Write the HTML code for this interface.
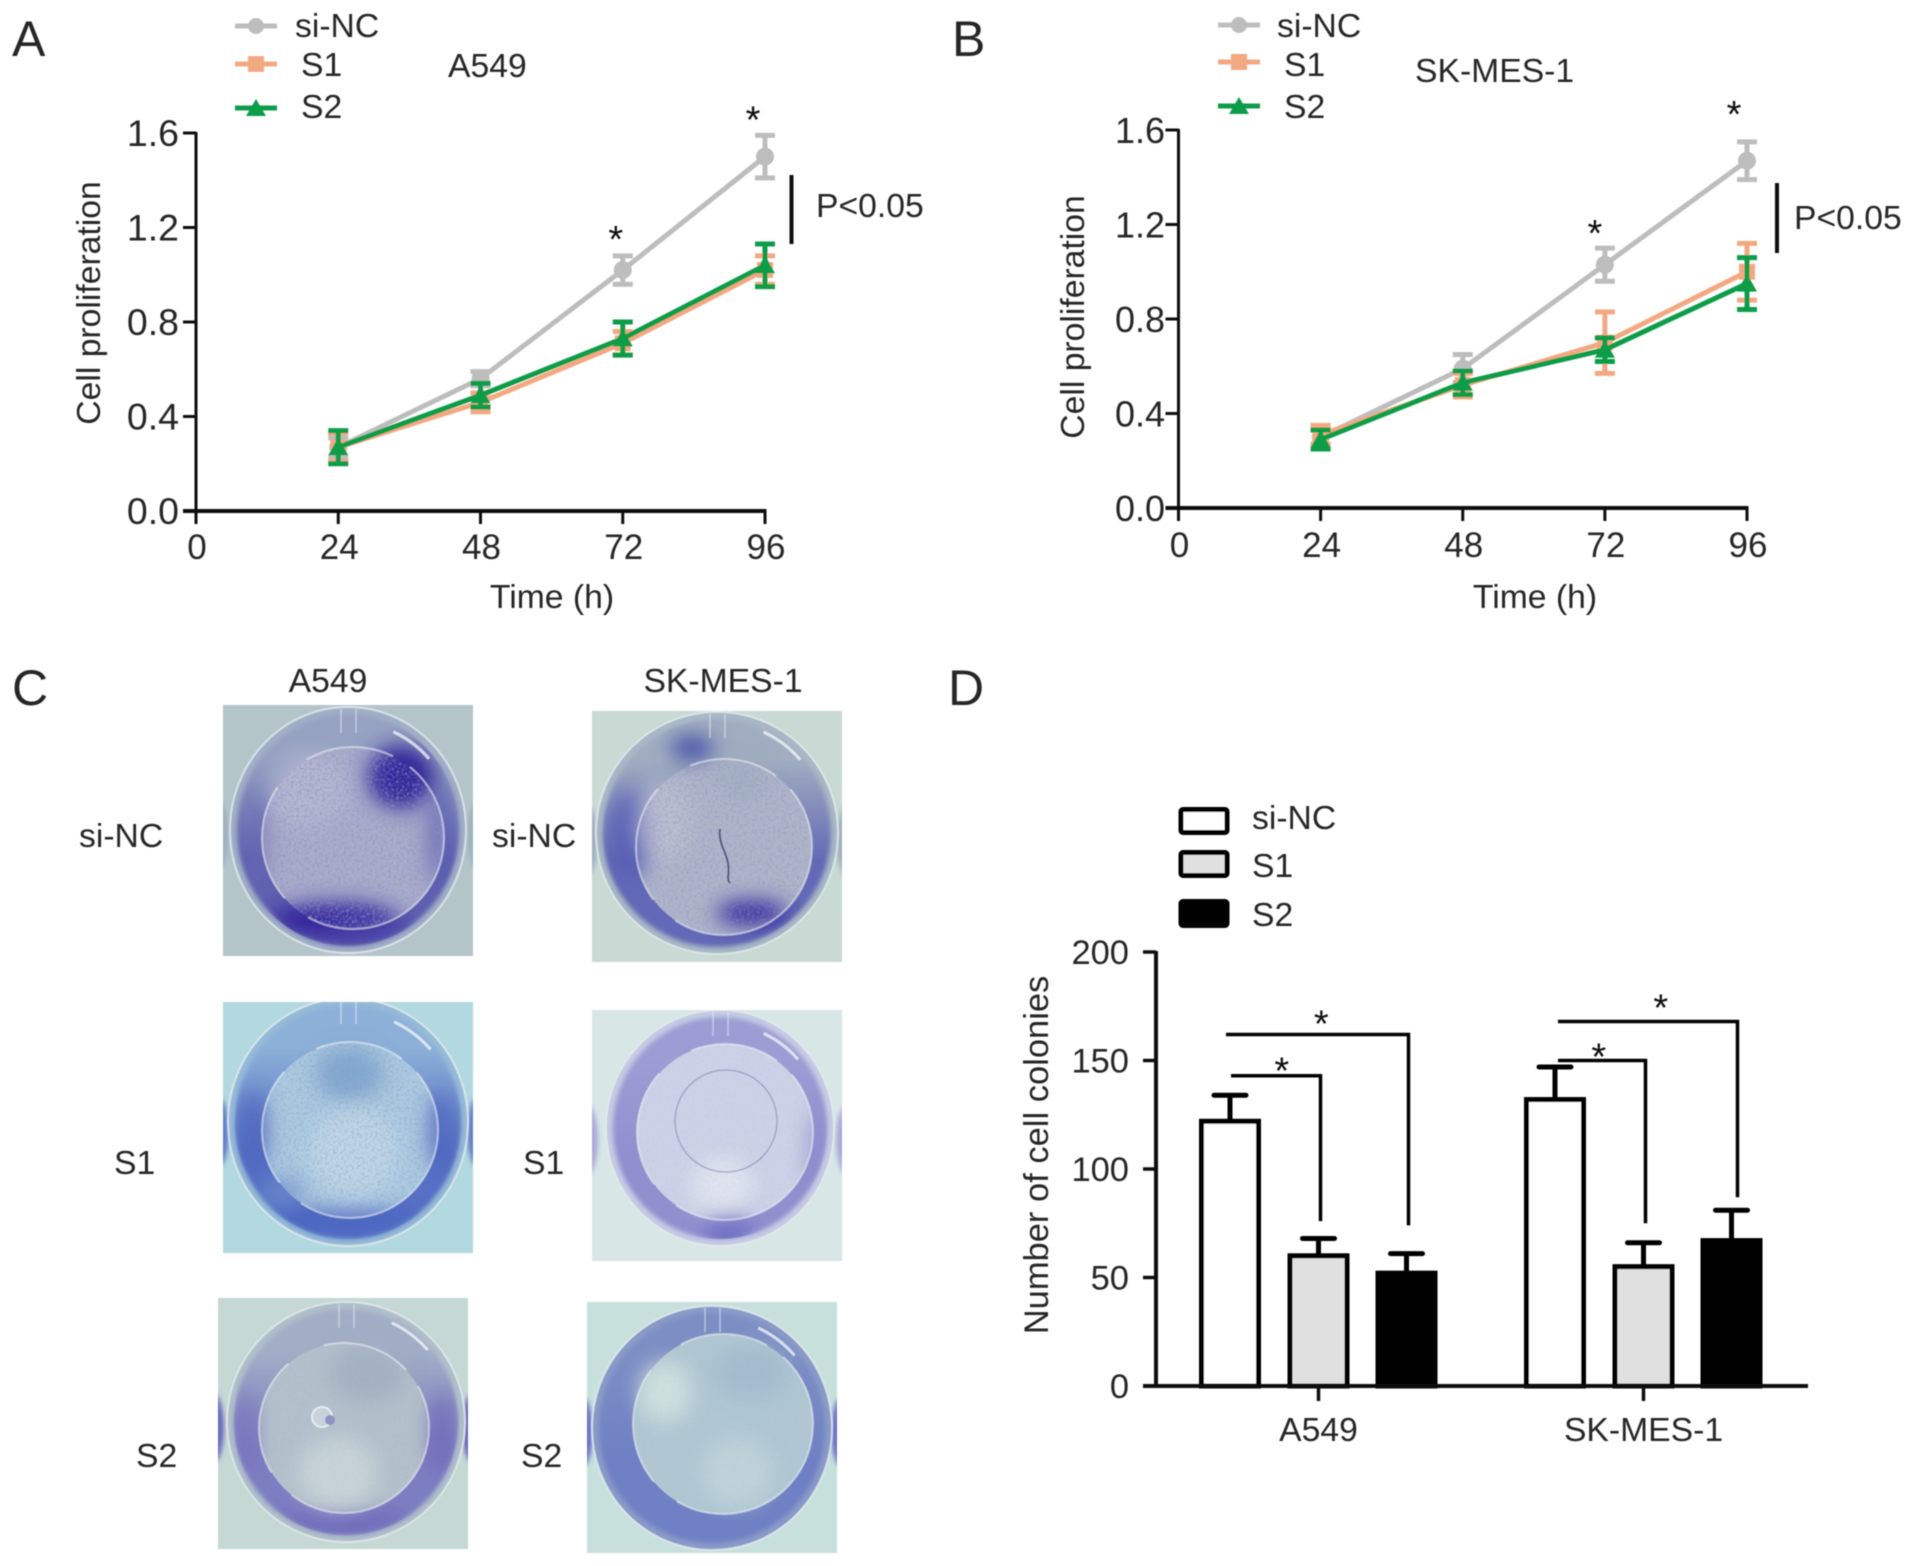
<!DOCTYPE html>
<html lang="en">
<head>
<meta charset="utf-8">
<title>Cell proliferation and colony formation</title>
<style>
html,body{margin:0;padding:0;background:#fff}
svg{display:block}
text{font-family:"Liberation Sans",Arial,sans-serif;font-size:33.7px;fill:#262626}
</style>
</head>
<body>
<svg id="figure" xmlns="http://www.w3.org/2000/svg" width="1913" height="1566" viewBox="0 0 1913 1566">
  <defs>
    <filter id="soft" x="-2%" y="-2%" width="104%" height="104%"><feGaussianBlur stdDeviation="0.6"/></filter>
    <filter id="blob" filterUnits="userSpaceOnUse" x="-80" y="-80" width="410" height="410"><feGaussianBlur stdDeviation="10"/></filter>
    <filter id="edge" filterUnits="userSpaceOnUse" x="-80" y="-80" width="410" height="410"><feGaussianBlur stdDeviation="2.5"/></filter>
    <filter id="speckle" x="0" y="0" width="100%" height="100%">
      <feTurbulence type="fractalNoise" baseFrequency="0.38" numOctaves="2" seed="4"/>
      <feColorMatrix type="matrix" values="0 0 0 0 0.28  0 0 0 0 0.28  0 0 0 0 0.58  0 0 0 1.7 -0.72"/>
    </filter>
  </defs>

  <g id="root" filter="url(#soft)">
    <text x="12" y="56" style="font-size:50px">A</text>
    <text x="952" y="56" style="font-size:50px">B</text>
    <text x="12" y="705" style="font-size:50px">C</text>
    <text x="948" y="705" style="font-size:50px">D</text>

    <g>
      <line x1="235" x2="277" y1="26" y2="26" stroke="#bdbdbd" stroke-width="5"/>
      <circle cx="256" cy="26" r="8" fill="#bdbdbd"/>
      <text x="295" y="37">si-NC</text>
      <line x1="235" x2="277" y1="64" y2="64" stroke="#f4a882" stroke-width="5"/>
      <rect x="248" y="56" width="16" height="16" fill="#f4a882"/>
      <text x="301" y="76">S1</text>
      <line x1="235" x2="277" y1="108" y2="108" stroke="#0f9d4a" stroke-width="5"/>
      <polygon points="256,99 266,116 246,116" fill="#0f9d4a"/>
      <text x="301" y="118">S2</text>
    </g>
    <text x="448" y="77">A549</text>
    <text transform="translate(100,303) rotate(-90)" text-anchor="middle">Cell proliferation</text>
    <text x="552" y="608" text-anchor="middle">Time (h)</text>
    <line x1="791.5" x2="791.5" y1="175" y2="244" stroke="#111" stroke-width="4"/>
    <text x="816" y="217">P&lt;0.05</text>
    <g id="chartA"></g>

    <g>
      <line x1="1218" x2="1260" y1="25" y2="25" stroke="#bdbdbd" stroke-width="5"/>
      <circle cx="1239" cy="25" r="8" fill="#bdbdbd"/>
      <text x="1277" y="37">si-NC</text>
      <line x1="1218" x2="1260" y1="62" y2="62" stroke="#f4a882" stroke-width="5"/>
      <rect x="1231" y="54" width="16" height="16" fill="#f4a882"/>
      <text x="1284" y="76">S1</text>
      <line x1="1218" x2="1260" y1="106" y2="106" stroke="#0f9d4a" stroke-width="5"/>
      <polygon points="1239,97 1249,114 1229,114" fill="#0f9d4a"/>
      <text x="1284" y="118">S2</text>
    </g>
    <text x="1415" y="82">SK-MES-1</text>
    <text transform="translate(1084,317) rotate(-90)" text-anchor="middle">Cell proliferation</text>
    <text x="1535" y="608" text-anchor="middle">Time (h)</text>
    <line x1="1777" x2="1777" y1="183" y2="253" stroke="#111" stroke-width="4"/>
    <text x="1794" y="229">P&lt;0.05</text>
    <g id="chartB"></g>

    <text x="328" y="692" text-anchor="middle">A549</text>
    <text x="723" y="692" text-anchor="middle">SK-MES-1</text>
    <text x="79" y="847">si-NC</text>
    <text x="492" y="847">si-NC</text>
    <text x="114" y="1174">S1</text>
    <text x="523" y="1174">S1</text>
    <text x="136" y="1467">S2</text>
    <text x="521" y="1467">S2</text>
    <g id="wells"></g>

    <g>
      <rect x="1181" y="809.5" width="46" height="23" rx="2" fill="#fff" stroke="#000" stroke-width="5"/>
      <text x="1252" y="829">si-NC</text>
      <rect x="1181" y="852.5" width="46" height="23" rx="2" fill="#e0e0e0" stroke="#000" stroke-width="5"/>
      <text x="1252" y="877">S1</text>
      <rect x="1181" y="901.5" width="46" height="24" rx="2" fill="#000" stroke="#000" stroke-width="5"/>
      <text x="1252" y="926">S2</text>
    </g>
    <text transform="translate(1048,1155) rotate(-90)" text-anchor="middle" style="font-size:34.5px">Number of cell colonies</text>
    <g id="chartD"></g>
  </g>
</svg>

<script>
/* ---------- Line chart data ---------- */
const timeTicks = [0, 24, 48, 72, 96];
const timePoints = [24, 48, 72, 96];
const proliferationTicks = [0, 0.4, 0.8, 1.2, 1.6];
const proliferationTickLabels = ['0.0', '0.4', '0.8', '1.2', '1.6'];

const a549SiNc = [0.27, 0.56, 1.02, 1.50];
const a549SiNcErr = [0.04, 0.03, 0.06, 0.09];
const a549S1 = [0.27, 0.46, 0.71, 1.02];
const a549S1Err = [0.06, 0.04, 0.05, 0.06];
const a549S2 = [0.27, 0.49, 0.73, 1.04];
const a549S2Err = [0.07, 0.05, 0.07, 0.09];

const skMesSiNc = [0.30, 0.59, 1.03, 1.47];
const skMesSiNcErr = [0.03, 0.06, 0.07, 0.08];
const skMesS1 = [0.31, 0.52, 0.70, 1.00];
const skMesS1Err = [0.04, 0.05, 0.13, 0.12];
const skMesS2 = [0.29, 0.53, 0.67, 0.95];
const skMesS2Err = [0.04, 0.05, 0.05, 0.11];

const starredTimes = [72, 96];

/* ---------- Bar chart data ---------- */
const barGroups = ['A549', 'SK-MES-1'];
const barSeriesNames = ['si-NC', 'S1', 'S2'];
const a549Colonies = [122, 60, 52];
const a549ColoniesTop = [134, 68, 61];
const skMesColonies = [132, 55, 67];
const skMesColoniesTop = [147, 66, 81];
const colonyTicks = [0, 50, 100, 150, 200];
const a549BracketLevels = [143, 162];
const a549BracketEnds = [76, 74];
const skMesBracketLevels = [150, 168];
const skMesBracketEnds = [75, 87];

const SVGNS = 'http://www.w3.org/2000/svg';
function add(parent, tag, attrs) {
  const node = document.createElementNS(SVGNS, tag);
  for (const k in attrs) node.setAttribute(k, attrs[k]);
  parent.appendChild(node);
  return node;
}

/* ---------- Line charts ---------- */
function drawLineChart(root, box, series, slug) {
  const xs = v => box.x0 + (v / 96) * (box.x96 - box.x0);
  const ys = v => box.y0 - (v / 1.6) * (box.y0 - box.y16);

  let el = add(root, 'line', {x1: xs(0), x2: xs(0), y1: ys(1.6) - 1, y2: ys(0) + 13, stroke: '#111', 'stroke-width': 3});
  
  
  el = add(root, 'line', {x1: xs(0) - 13, x2: xs(96) + 1.5, y1: ys(0), y2: ys(0), stroke: '#111', 'stroke-width': 4});
  
  

  proliferationTicks.forEach((t, i) => {
    let n = add(root, 'line', {x1: xs(0) - 13, x2: xs(0), y1: ys(t), y2: ys(t), stroke: '#111', 'stroke-width': 3});
    
    
    n = add(root, 'text', {x: box.yLabelX, y: ys(t) + 13, 'text-anchor': 'end', style: 'font-size:' + box.yFont + 'px'});
    n.textContent = proliferationTickLabels[i];
    
    
  });
  timeTicks.forEach(t => {
    let n = add(root, 'line', {x1: xs(t), x2: xs(t), y1: ys(0), y2: ys(0) + 13, stroke: '#111', 'stroke-width': 3});
    
    
    n = add(root, 'text', {x: xs(t) + 1, y: box.xLabelY, 'text-anchor': 'middle', style: 'font-size:35px'});
    n.textContent = String(t);
    
    
  });

  series.forEach(s => {
    const g = add(root, 'g', {});
    
    
    s.values.forEach((v, i) => {
      const x = xs(timePoints[i]), hi = ys(v + s.err[i]), lo = ys(v - s.err[i]);
      const d = add(g, 'path', {
        d: 'M' + (x - 10) + ' ' + hi + 'H' + (x + 10) + 'M' + x + ' ' + hi + 'V' + lo + 'M' + (x - 10) + ' ' + lo + 'H' + (x + 10),
        stroke: s.color, 'stroke-width': 5, fill: 'none'
      });
      
      
    });
    const pts = s.values.map((v, i) => xs(timePoints[i]) + ',' + ys(v)).join(' ');
    const line = add(g, 'polyline', {points: pts, fill: 'none', stroke: s.color, 'stroke-width': 5});
    
    
    s.values.forEach((v, i) => {
      const x = xs(timePoints[i]), y = ys(v);
      let m;
      if (s.shape === 'circle') m = add(g, 'circle', {cx: x, cy: y, r: 9, fill: s.color});
      else if (s.shape === 'square') m = add(g, 'rect', {x: x - 8, y: y - 8, width: 16, height: 16, fill: s.color});
      else m = add(g, 'polygon', {points: x + ',' + (y - 10) + ' ' + (x + 10) + ',' + (y + 8) + ' ' + (x - 10) + ',' + (y + 8), fill: s.color});
      
      
    });
  });

  starredTimes.forEach((t, k) => {
    const i = timePoints.indexOf(t);
    const top = series[0].values[i] + series[0].err[i];
    const n = add(root, 'text', {x: xs(t) + box.starDx[k], y: ys(top) - box.starLift[k] + 21, 'text-anchor': 'middle', style: 'font-size:38px;fill:#111'});
    n.textContent = '*';
    
    
  });
}

drawLineChart(document.getElementById('chartA'),
  {x0: 196, x96: 765, y0: 511, y16: 133, yLabelX: 179, xLabelY: 559, yFont: 37.5, starDx: [-7, -12], starLift: [25, 24]},
  [
    {name: 'si-nc', values: a549SiNc, err: a549SiNcErr, color: '#bdbdbd', shape: 'circle'},
    {name: 's1', values: a549S1, err: a549S1Err, color: '#f4a882', shape: 'square'},
    {name: 's2', values: a549S2, err: a549S2Err, color: '#0f9d4a', shape: 'triangle'}
  ], 'panel-a');

drawLineChart(document.getElementById('chartB'),
  {x0: 1178.5, x96: 1747, y0: 508, y16: 130, yLabelX: 1165, xLabelY: 557, yFont: 36, starDx: [-10, -13], starLift: [23, 36]},
  [
    {name: 'si-nc', values: skMesSiNc, err: skMesSiNcErr, color: '#bdbdbd', shape: 'circle'},
    {name: 's1', values: skMesS1, err: skMesS1Err, color: '#f4a882', shape: 'square'},
    {name: 's2', values: skMesS2, err: skMesS2Err, color: '#0f9d4a', shape: 'triangle'}
  ], 'panel-b');

/* ---------- Bar chart ---------- */
(function () {
  const root = document.getElementById('chartD');
  const y0 = 1386, y200 = 952;
  const ys = v => y0 - (v / 200) * (y0 - y200);
  const groupX = [1318.5, 1643.5];
  const offset = [-88.5, 0, 88];
  const fills = ['#ffffff', '#e0e0e0', '#000000'];
  const barW = 62;
  const values = [a549Colonies, skMesColonies];
  const tops = [a549ColoniesTop, skMesColoniesTop];
  const levels = [a549BracketLevels, skMesBracketLevels];
  const ends = [a549BracketEnds, skMesBracketEnds];
  const starDx = [[6, 4], [-3, 13]];
  const starDy = [[5, -1], [6, -4]];

  colonyTicks.forEach(t => {
    let n = add(root, 'line', {x1: 1143, x2: 1156, y1: ys(t), y2: ys(t), stroke: '#111', 'stroke-width': 3.5});
    
    
    n = add(root, 'text', {x: 1129, y: ys(t) + 12, 'text-anchor': 'end', style: 'font-size:34.5px'});
    n.textContent = String(t);
    
    
  });

  barGroups.forEach((grp, gi) => {
    values[gi].forEach((v, si) => {
      const cx = groupX[gi] + offset[si];
      const top = ys(tops[gi][si]);
      const e = add(root, 'path', {
        d: 'M' + cx + ' ' + ys(v) + 'V' + top + 'M' + (cx - 16) + ' ' + top + 'H' + (cx + 16),
        stroke: '#000', 'stroke-width': 5, fill: 'none', 'stroke-linecap': 'round'
      });
      
      
      const b = add(root, 'rect', {
        x: cx - barW / 2 + 2.5, y: ys(v), width: barW - 5, height: y0 - ys(v),
        fill: fills[si], stroke: '#000', 'stroke-width': 5
      });
      
      
    });

    levels[gi].forEach((lvl, li) => {
      const target = li + 1;
      const left = groupX[gi] + offset[0] + (gi === 0 ? (li === 0 ? 1 : -4) : 3);
      const right = groupX[gi] + offset[target] + 2 + (gi === 1 && li === 1 ? 4 : 0);
      const y = ys(lvl);
      const br = add(root, 'path', {
        d: 'M' + left + ' ' + y + 'H' + right + 'V' + ys(ends[gi][li]),
        stroke: '#000', 'stroke-width': 3.5, fill: 'none'
      });
      
      
      const st = add(root, 'text', {x: (left + right) / 2 + starDx[gi][li], y: y + 3 + starDy[gi][li], 'text-anchor': 'middle', style: 'font-size:38px;fill:#111'});
      st.textContent = '*';
      
      
    });
  });

  let ax = add(root, 'line', {x1: 1156, x2: 1156, y1: y200 - 1, y2: y0, stroke: '#111', 'stroke-width': 4});
  
  
  ax = add(root, 'line', {x1: 1143, x2: 1808, y1: y0, y2: y0, stroke: '#111', 'stroke-width': 4});
  
  
  barGroups.forEach((grp, gi) => {
    let n = add(root, 'line', {x1: groupX[gi], x2: groupX[gi], y1: y0, y2: y0 + 15, stroke: '#111', 'stroke-width': 3.5});
    
    
    n = add(root, 'text', {x: groupX[gi], y: 1441, 'text-anchor': 'middle'});
    n.textContent = grp;
    
    
  });
})();

/* ---------- Colony well photographs (drawn) ---------- */
(function () {
  const root = document.getElementById('wells');
  const wells = [
    {name: 'a549-si-nc', x: 223, y: 705, bg: '#b4c5ca', rim: '#a1afc6', ringTop: '#96a2c2', ringBot: '#5f60b0', floor: '#a9adc9', speck: .95,
      ocx: 125, ocy: 125, orx: 118, ory: 123, fcx: 130, fcy: 133, fr: 91,
      blobs: [[178, 72, 34, 32, '#30269a', 1], [110, 215, 62, 18, '#34289c', 1], [150, 222, 40, 12, '#4c44a8', .8], [215, 130, 10, 50, '#5a5cb0', .8], [35, 140, 10, 50, '#6a6cb4', .6], [85, 85, 40, 38, '#bcc0d4', .6]], side: '#9fb0c0'},
    {name: 'sk-mes-si-nc', x: 592, y: 711, bg: '#c9d9d3', rim: '#a9b8c6', ringTop: '#a0adc0', ringBot: '#6469b6', floor: '#afb6c8', speck: .7,
      ocx: 125, ocy: 122, orx: 121, ory: 121, fcx: 132, fcy: 136, fr: 88,
      blobs: [[160, 202, 36, 13, '#352c9e', 1], [38, 125, 20, 44, '#5a60b6', .95], [100, 37, 22, 13, '#4a54a8', 1], [70, 110, 28, 40, '#c2c6d4', .6], [150, 70, 26, 20, '#9aaaba', .5]], side: '#9fb0c0', crack: true},
    {name: 'a549-s1', x: 223, y: 1002, bg: '#b2d8e0', rim: '#95bbd8', ringTop: '#8cb0d8', ringBot: '#5570c4', floor: '#aacbe0', speck: .6,
      ocx: 125, ocy: 120, orx: 120, ory: 124, fcx: 127, fcy: 128, fr: 88,
      blobs: [[120, 218, 80, 10, '#4a64c0', .9], [30, 130, 14, 40, '#4f68c0', .9], [218, 130, 12, 40, '#4f68c0', .9], [126, 72, 34, 28, '#7ea6cc', .9], [60, 190, 20, 14, '#6f90cc', .8], [130, 150, 46, 46, '#c4dce8', .7]], side: '#6280c8'},
    {name: 'sk-mes-s1', x: 592, y: 1010, bg: '#d8e6e6', rim: '#c6cce4', ringTop: '#9c9dd4', ringBot: '#9090cf', floor: '#ccd2e6', speck: .1,
      ocx: 128, ocy: 118, orx: 114, ory: 118, fcx: 133, fcy: 122, fr: 88,
      blobs: [[136, 222, 24, 18, '#7171c4', 1], [225, 140, 10, 40, '#8d8dcc', .7], [130, 175, 32, 28, '#e4e8f0', .8]], side: '#a8a8d8', circle: true},
    {name: 'a549-s2', x: 218, y: 1298, bg: '#c5d8d4', rim: '#b0bfca', ringTop: '#a2aec6', ringBot: '#7d7dc2', floor: '#b4c0cb', speck: .08,
      ocx: 128, ocy: 124, orx: 119, ory: 120, fcx: 126, fcy: 130, fr: 85,
      blobs: [[125, 226, 70, 9, '#6a66b8', .9], [26, 135, 12, 42, '#7672bc', .8], [224, 135, 12, 40, '#6f6bb8', .9], [150, 75, 38, 30, '#a0aebf', .8], [120, 175, 40, 36, '#ccd8da', .8]], side: '#6b68bc', bubble: true},
    {name: 'sk-mes-s2', x: 587, y: 1302, bg: '#c8e0db', rim: '#8a9ac8', ringTop: '#7d8ec4', ringBot: '#6f80c4', floor: '#b0c7d3', speck: .06,
      ocx: 125, ocy: 126, orx: 120, ory: 122, fcx: 136, fcy: 122, fr: 90,
      blobs: [[78, 90, 26, 30, '#d2e3df', .9], [150, 170, 36, 34, '#c4d8dc', .7], [165, 70, 36, 26, '#a0b8cc', .7]], side: '#6a70c4'}
  ];
  const defs = document.querySelector('defs');
  wells.forEach((w, i) => {
    const g = add(root, 'g', {transform: 'translate(' + w.x + ' ' + w.y + ')'});
    
    
    const clipBox = add(defs, 'clipPath', {id: 'box' + i});
    add(clipBox, 'rect', {width: 250, height: 251});
    const clipRing = add(defs, 'clipPath', {id: 'ring' + i});
    add(clipRing, 'ellipse', {cx: w.ocx, cy: w.ocy, rx: w.orx - 7, ry: w.ory - 7});
    const clipFloor = add(defs, 'clipPath', {id: 'floor' + i});
    add(clipFloor, 'circle', {cx: w.fcx, cy: w.fcy, r: w.fr});
    const grad = add(defs, 'linearGradient', {id: 'ringGrad' + i, x1: 0, y1: 0, x2: 0, y2: 1});
    add(grad, 'stop', {offset: '0.18', 'stop-color': w.ringTop});
    add(grad, 'stop', {offset: '0.62', 'stop-color': w.ringBot});

    const inner = add(g, 'g', {'clip-path': 'url(#box' + i + ')'});
    
    

    let n = add(inner, 'rect', {width: 250, height: 251, fill: w.bg});
    
    
    n = add(inner, 'ellipse', {cx: -6, cy: 130, rx: 12, ry: 36, fill: w.side, filter: 'url(#edge)'});
    
    
    n = add(inner, 'ellipse', {cx: 256, cy: 130, rx: 12, ry: 36, fill: w.side, filter: 'url(#edge)'});
    
    
    n = add(inner, 'ellipse', {cx: w.ocx, cy: w.ocy, rx: w.orx, ry: w.ory, fill: w.rim, stroke: '#e2eaec', 'stroke-width': 2, 'stroke-opacity': .8});
    
    
    n = add(inner, 'ellipse', {cx: w.ocx, cy: w.ocy, rx: w.orx - 7, ry: w.ory - 7, fill: 'url(#ringGrad' + i + ')', filter: 'url(#edge)'});
    
    
    n = add(inner, 'circle', {cx: w.fcx, cy: w.fcy, r: w.fr, fill: w.floor});
    
    

    const blobs = add(inner, 'g', {'clip-path': 'url(#ring' + i + ')'});
    
    
    w.blobs.forEach(b => {
      const e = add(blobs, 'ellipse', {cx: b[0], cy: b[1], rx: b[2], ry: b[3], fill: b[4], opacity: b[5], filter: 'url(#blob)'});
      
      
    });

    const sp = add(inner, 'g', {'clip-path': 'url(#floor' + i + ')'});
    
    
    n = add(sp, 'rect', {width: 250, height: 251, filter: 'url(#speckle)', opacity: w.speck});
    
    

    n = add(inner, 'circle', {cx: w.fcx, cy: w.fcy, r: w.fr, fill: 'none', stroke: '#eef2f6', 'stroke-width': 2, 'stroke-opacity': .55, 'stroke-dasharray': '190 30 120 40 90 20'});
    
    
    const rr = w.orx - 10;
    n = add(inner, 'path', {d: 'M' + (w.ocx + rr * .42) + ' ' + (w.ocy - rr * .91) + 'A' + rr + ' ' + rr + ' 0 0 1 ' + (w.ocx + rr * .75) + ' ' + (w.ocy - rr * .66), fill: 'none', stroke: '#f4f7f8', 'stroke-width': 3, 'stroke-opacity': .75});
    
    
    n = add(inner, 'path', {d: 'M' + (w.ocx - 7) + ' ' + (w.ocy - w.ory + 2) + 'v24M' + (w.ocx + 8) + ' ' + (w.ocy - w.ory + 2) + 'v24', fill: 'none', stroke: '#e6ecf0', 'stroke-width': 1.5, 'stroke-opacity': .55});
    
    

    if (w.crack) {
      n = add(inner, 'path', {d: 'M128 118C126 132 134 140 136 152S134 168 138 172', fill: 'none', stroke: '#4f5a86', 'stroke-width': 2});
      
      
    }
    if (w.circle) {
      n = add(inner, 'circle', {cx: 134, cy: 111, r: 51, fill: 'none', stroke: '#8e93bc', 'stroke-width': 1.5, 'stroke-opacity': .7});
      
      
    }
    if (w.bubble) {
      n = add(inner, 'circle', {cx: 104, cy: 119, r: 10, fill: '#c8d2dc', stroke: '#e4ecf0', 'stroke-width': 2});
      
      
      n = add(inner, 'circle', {cx: 112, cy: 122, r: 5, fill: '#8f92c4'});
      
      
    }
  });
})();
</script>
</body>
</html>
